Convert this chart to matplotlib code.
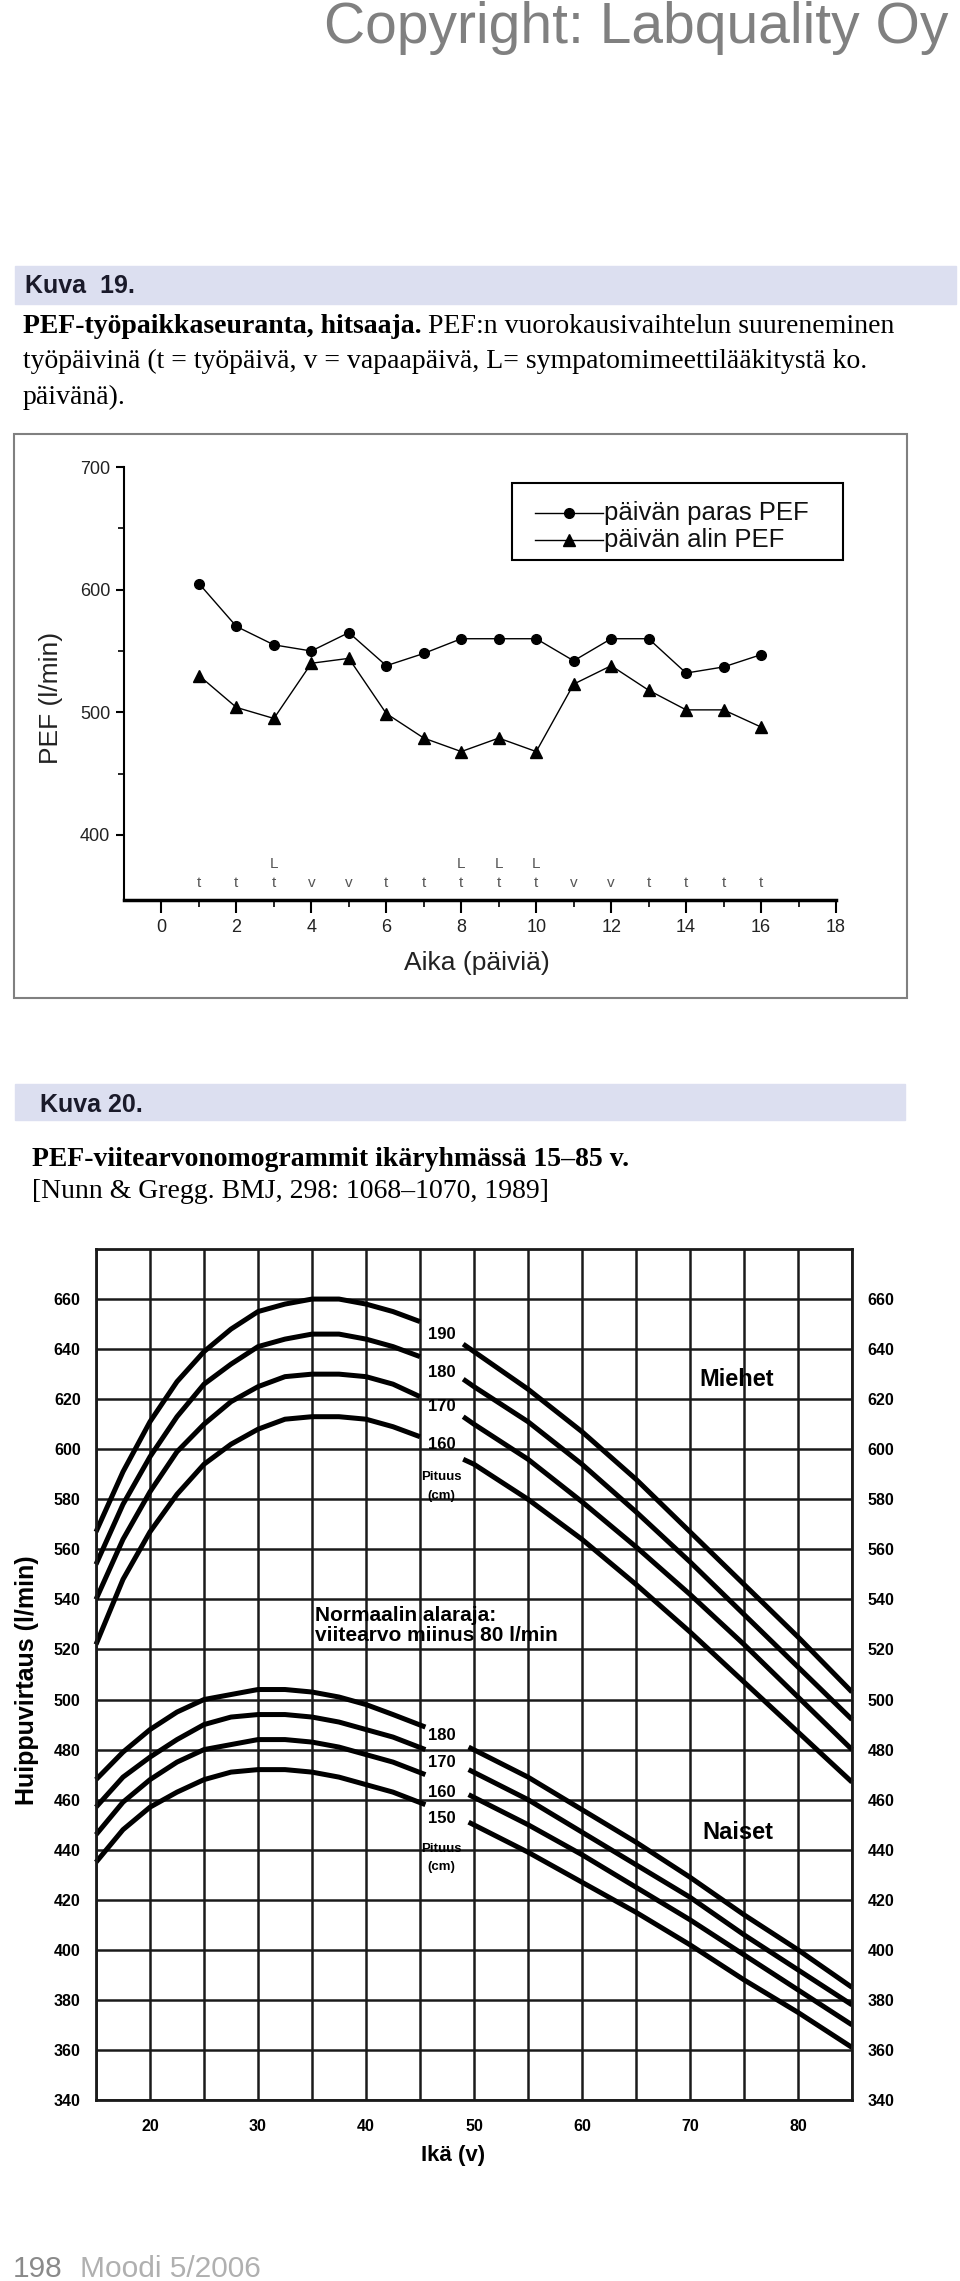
import matplotlib
matplotlib.use('Agg')
import matplotlib.pyplot as plt
from matplotlib.patches import Rectangle
from matplotlib.lines import Line2D

W, H = 960, 2281
SANS = ['Liberation Sans', 'DejaVu Sans']
SERIF = ['Liberation Serif', 'DejaVu Serif']
plt.rcParams['font.family'] = SANS


def fx(px):
    return px / W


def fy(py):
    return 1 - py / H


# Kuva 19: PEF-työpaikkaseuranta
paiva = list(range(1, 17))
paras_pef = [605, 570, 555, 550, 565, 538, 548, 560, 560, 560, 542, 560, 560, 532, 537, 547]
alin_pef = [530, 504, 495, 540, 544, 499, 479, 468, 479, 468, 523, 538, 518, 502, 502, 488]
paivan_tyyppi = ['t', 't', 't', 'v', 'v', 't', 't', 't', 't', 't', 'v', 'v', 't', 't', 't', 't']
laake_paivat = [3, 8, 9, 10]
selitteet = ['päivän paras PEF', 'päivän alin PEF']

# Kuva 20: PEF-viitearvot (Nunn & Gregg)
ika_m_vasen = [15, 17.5, 20, 22.5, 25, 27.5, 30, 32.5, 35, 37.5, 40, 42.5, 45]
ika_m_oikea = [49, 50, 55, 60, 65, 70, 75, 80, 85]
miehet_190_v = [567, 591, 611, 627, 639, 648, 655, 658, 660, 660, 658, 655, 651]
miehet_190_o = [642, 639, 624, 607, 588, 567, 546, 525, 503]
miehet_180_v = [554, 578, 597, 613, 626, 634, 641, 644, 646, 646, 644, 641, 637]
miehet_180_o = [628, 625, 611, 594, 575, 555, 534, 513, 492]
miehet_170_v = [540, 564, 583, 599, 610, 619, 625, 629, 630, 630, 629, 626, 621]
miehet_170_o = [613, 610, 596, 579, 561, 542, 522, 501, 480]
miehet_160_v = [522, 548, 567, 582, 594, 602, 608, 612, 613, 613, 612, 609, 605]
miehet_160_o = [596, 594, 580, 564, 546, 527, 507, 487, 467]

ika_n_vasen = [15, 17.5, 20, 22.5, 25, 27.5, 30, 32.5, 35, 37.5, 40, 42.5, 45.5]
ika_n_oikea = [49.5, 55, 60, 65, 70, 75, 80, 85]
naiset_180_v = [468, 479, 488, 495, 500, 502, 504, 504, 503, 501, 498, 494, 489]
naiset_180_o = [481, 469, 456, 443, 429, 414, 400, 385]
naiset_170_v = [457, 469, 477, 484, 490, 493, 494, 494, 493, 491, 488, 485, 480]
naiset_170_o = [472, 460, 447, 434, 421, 406, 392, 378]
naiset_160_v = [446, 459, 468, 475, 480, 482, 484, 484, 483, 481, 478, 475, 470]
naiset_160_o = [462, 450, 438, 425, 412, 398, 384, 370]
naiset_150_v = [435, 448, 457, 463, 468, 471, 472, 472, 471, 469, 466, 463, 458]
naiset_150_o = [451, 439, 427, 415, 402, 388, 375, 361]

fig = plt.figure(figsize=(W / 100, H / 100), dpi=100)
rend = fig.canvas.get_renderer()

# sivun otsikko
fig.text(fx(948), fy(43), 'Copyright: Labquality Oy', ha='right', va='baseline',
         fontsize=41, color='#808080')

# Kuva 19 otsikkopalkki ja kuvateksti
fig.patches.append(Rectangle((fx(15), fy(304)), (956 - 15) / W, 38 / H,
                             transform=fig.transFigure, color='#dcdff0', zorder=0))
fig.text(fx(25), fy(293), 'Kuva  19.', fontsize=18, fontweight='bold', va='baseline',
         color='#1a1a2a')
t = fig.text(fx(23), fy(333), 'PEF-työpaikkaseuranta, hitsaaja.', family=SERIF,
             fontsize=20, fontweight='bold', va='baseline')
bb = t.get_window_extent(renderer=rend)
fig.text(bb.x1 / W + fx(6), fy(333), 'PEF:n vuorokausivaihtelun suureneminen',
         family=SERIF, fontsize=20, va='baseline')
fig.text(fx(23), fy(368), 'työpäivinä (t = työpäivä, v = vapaapäivä, L= sympatomimeettilääkitystä ko.',
         family=SERIF, fontsize=20, va='baseline')
fig.text(fx(23), fy(404), 'päivänä).', family=SERIF, fontsize=20, va='baseline')

# Kuva 19 kehys
fig.patches.append(Rectangle((fx(14), fy(998)), (907 - 14) / W, (998 - 434) / H,
                             transform=fig.transFigure, fill=False, edgecolor='#808080',
                             linewidth=1.5))

ax1 = fig.add_axes([fx(124), fy(900), (836 - 124) / W, (900 - 467) / H])
ax1.plot(paiva, paras_pef, color='black', linewidth=1, marker='o', markersize=7)
ax1.plot(paiva, alin_pef, color='black', linewidth=1, marker='^', markersize=8.5)
for d, typ in zip(paiva, paivan_tyyppi):
    ax1.text(d, 361, typ, ha='center', va='center', fontsize=11, color='#555555')
for d in laake_paivat:
    ax1.text(d, 376, 'L', ha='center', va='center', fontsize=11, color='#555555')

ax1.set_xlim(-1, 18)
ax1.set_ylim(347, 700)
ax1.set_xticks(range(0, 19, 2))
ax1.set_xticks(range(1, 18, 2), minor=True)
ax1.set_yticks([400, 500, 600, 700])
ax1.set_yticks([450, 550, 650], minor=True)
ax1.spines['top'].set_visible(False)
ax1.spines['right'].set_visible(False)
ax1.spines['left'].set_linewidth(1.5)
ax1.spines['bottom'].set_linewidth(2.5)
ax1.tick_params(axis='x', which='major', direction='out', length=9, width=1.5, pad=5,
                labelsize=13, labelcolor='#222222')
ax1.tick_params(axis='x', which='minor', direction='out', length=5, width=1.2)
ax1.tick_params(axis='y', which='major', direction='out', length=6, width=1.5, pad=4,
                labelsize=13, labelcolor='#222222')
ax1.tick_params(axis='y', which='minor', direction='out', length=4, width=1.2)
ax1.patch.set_alpha(0)

# selite (kehys ja merkit)
fig.patches.append(Rectangle((fx(512), fy(560)), (843 - 512) / W, (560 - 483) / H,
                             transform=fig.transFigure, fill=False, edgecolor='black',
                             linewidth=1.5))
for yy, mk, ms, lab in [(513, 'o', 7, selitteet[0]), (540, '^', 8.5, selitteet[1])]:
    fig.add_artist(Line2D([fx(535), fx(569), fx(603)], [fy(yy)] * 3, color='black',
                          linewidth=1, marker=mk, markersize=ms, markevery=[1]))
    fig.text(fx(604), fy(yy), lab, ha='left', va='center', fontsize=18.5, color='#111111')

fig.text(fx(51), fy(698), 'PEF (l/min)', rotation=90, ha='center', va='center',
         fontsize=19, color='#222222')
fig.text(fx(477), fy(963), 'Aika (päiviä)', ha='center', va='center', fontsize=19,
         color='#222222')

# Kuva 20 otsikkopalkki ja kuvateksti
fig.patches.append(Rectangle((fx(15), fy(1120)), (905 - 15) / W, 36 / H,
                             transform=fig.transFigure, color='#dcdff0', zorder=0))
fig.text(fx(40), fy(1112), 'Kuva 20.', fontsize=18, fontweight='bold', va='baseline',
         color='#1a1a2a')
fig.text(fx(32), fy(1166), 'PEF-viitearvonomogrammit ikäryhmässä 15–85 v.', family=SERIF,
         fontsize=20, fontweight='bold', va='baseline')
fig.text(fx(32), fy(1198), '[Nunn & Gregg. BMJ, 298: 1068–1070, 1989]', family=SERIF,
         fontsize=20, va='baseline')

ax2 = fig.add_axes([fx(96), fy(2100), (852 - 96) / W, (2100 - 1249) / H])
kayrat = [
    (ika_m_vasen, miehet_190_v, ika_m_oikea, miehet_190_o),
    (ika_m_vasen, miehet_180_v, ika_m_oikea, miehet_180_o),
    (ika_m_vasen, miehet_170_v, ika_m_oikea, miehet_170_o),
    (ika_m_vasen, miehet_160_v, ika_m_oikea, miehet_160_o),
    (ika_n_vasen, naiset_180_v, ika_n_oikea, naiset_180_o),
    (ika_n_vasen, naiset_170_v, ika_n_oikea, naiset_170_o),
    (ika_n_vasen, naiset_160_v, ika_n_oikea, naiset_160_o),
    (ika_n_vasen, naiset_150_v, ika_n_oikea, naiset_150_o),
]
for xv, yv, xo, yo in kayrat:
    ax2.plot(xv, yv, color='black', linewidth=3.6, solid_capstyle='butt', clip_on=False)
    ax2.plot(xo, yo, color='black', linewidth=3.6, solid_capstyle='butt', clip_on=False)

ax2.set_xlim(15, 85)
ax2.set_ylim(340, 680)
ax2.set_xticks(range(20, 81, 10))
ax2.set_xticks(range(15, 86, 10), minor=True)
ax2.set_yticks(range(340, 661, 20))
ax2.set_axisbelow(True)
ax2.grid(True, which='both', color='#1a1a1a', linewidth=1.8)
for s in ax2.spines.values():
    s.set_linewidth(2)
    s.set_color('#1a1a1a')
ax2.tick_params(axis='both', which='both', length=0)
ax2.tick_params(axis='y', labelleft=True, labelright=True, pad=11, labelsize=11.5)
ax2.tick_params(axis='x', pad=14, labelsize=11.5)
for lab in ax2.get_xticklabels() + ax2.get_yticklabels():
    lab.set_fontweight('bold')
for tk in ax2.yaxis.get_major_ticks():
    tk.label2.set_fontweight('bold')

# käyrien selitteet
for y, s in [(645.7, '190'), (630.8, '180'), (617, '170'), (601.7, '160')]:
    ax2.text(47, y, s, ha='center', va='center', fontsize=12, fontweight='bold')
ax2.text(47, 589, 'Pituus', ha='center', va='center', fontsize=9.5, fontweight='bold')
ax2.text(47, 581.5, '(cm)', ha='center', va='center', fontsize=9.5, fontweight='bold')
for y, s in [(485.6, '180'), (475, '170'), (463, '160'), (452.4, '150')]:
    ax2.text(47, y, s, ha='center', va='center', fontsize=12, fontweight='bold')
ax2.text(47, 440.4, 'Pituus', ha='center', va='center', fontsize=9.5, fontweight='bold')
ax2.text(47, 433, '(cm)', ha='center', va='center', fontsize=9.5, fontweight='bold')
ax2.text(74.3, 628, 'Miehet', ha='center', va='center', fontsize=17, fontweight='bold')
ax2.text(74.4, 447, 'Naiset', ha='center', va='center', fontsize=17, fontweight='bold')
ax2.text(35.3, 533.5, 'Normaalin alaraja:', ha='left', va='center', fontsize=15,
         fontweight='bold')
ax2.text(35.3, 525.5, 'viitearvo miinus 80 l/min', ha='left', va='center', fontsize=15,
         fontweight='bold')

fig.text(fx(27), fy(1680), 'Huippuvirtaus (l/min)', rotation=90, ha='center', va='center',
         fontsize=18, fontweight='bold')
fig.text(fx(453), fy(2155), 'Ikä (v)', ha='center', va='center', fontsize=16,
         fontweight='bold')

# alatunniste
t = fig.text(fx(13), fy(2277), '198', fontsize=21.5, color='#8a8a8a', va='baseline')
bb = t.get_window_extent(renderer=rend)
fig.text(bb.x1 / W + fx(17), fy(2277), 'Moodi 5/2006', fontsize=21.5, color='#b0b0b0',
         va='baseline')

fig.savefig('out.png', dpi=100)
